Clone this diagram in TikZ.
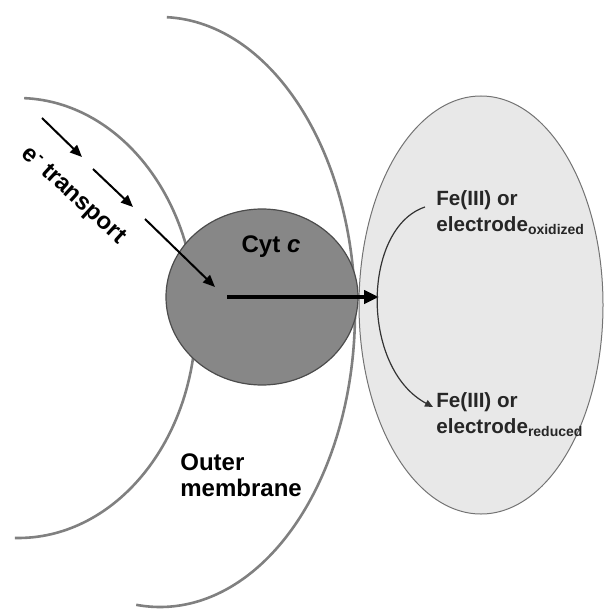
\documentclass[tikz,border=0pt]{standalone}
\usepackage{fontspec}
\setmainfont{Liberation Sans}
\usetikzlibrary{arrows.meta,shapes.geometric}

\begin{document}
\begin{tikzpicture}[x=0.5pt,y=-0.5pt,
	every node/.style={inner sep=0pt},
	membrane/.style={black!50, line width=1.3pt},
	flow/.style={-{Triangle[length=6pt,width=5pt]}, line width=1pt},
	sublabel/.style={font=\fontsize{10.3}{13}\selectfont\bfseries, align=left, anchor=north west, black!85},
	biglabel/.style={font=\fontsize{12}{13}\selectfont\bfseries}]
	\useasboundingbox (0,0) rectangle (604,609);
	\draw[membrane] ([shift={(18,318)}]-88:178 and 220) arc[start angle=-88, end angle=91, x radius=178, y radius=220];
	\draw[membrane] ([shift={(160,312)}]-88:195 and 295) arc[start angle=-88, end angle=97, x radius=195, y radius=295];
	\node[ellipse, draw=black!55, fill=black!9, line width=0.5pt, minimum width=122pt, minimum height=209pt] (acceptor) at (481,305) {};
	\node[ellipse, draw=black!70, fill=black!47, line width=0.6pt, minimum width=96pt, minimum height=88pt] (cyt) at (262,297) {};
	\node[biglabel] (cytlabel) at (271,247) {Cyt \textit{c}};
	\node[biglabel, rotate=-42.5] (etransport) at (73,196) {e\textsuperscript{-} transport};
	\node[biglabel, align=left, anchor=north west] (outer) at (180,453) {Outer\\membrane};
	\node[sublabel] (oxidized) at (436,190) {Fe(III) or\\electrode\raisebox{-1.5pt}{\fontsize{7}{7}\selectfont oxidized}};
	\node[sublabel] (reduced) at (436,392) {Fe(III) or\\electrode\raisebox{-1.5pt}{\fontsize{7}{7}\selectfont reduced}};
	\coordinate (t1s) at (42,118);
	\coordinate (t1e) at (82,157);
	\coordinate (t2s) at (93,169);
	\coordinate (t2e) at (133,207);
	\coordinate (t3s) at (145,219);
	\coordinate (t3e) at (215,287);
	\coordinate (hs) at (227,297);
	\coordinate (he) at (379,297);
	\coordinate (cs) at (425,207);
	\coordinate (ce) at (433,407);
	\draw[flow] (t1s) -- (t1e);
	\draw[flow] (t2s) -- (t2e);
	\draw[flow] (t3s) -- (t3e);
	\draw[-{Triangle[length=7.5pt,width=6.5pt]}, line width=2pt] (hs) -- (he);
	\draw[-{Triangle[length=4pt,width=3.5pt]}, black!80, line width=0.6pt] (cs) .. controls (362,228) and (360,368) .. (ce);
\end{tikzpicture}
\end{document}
